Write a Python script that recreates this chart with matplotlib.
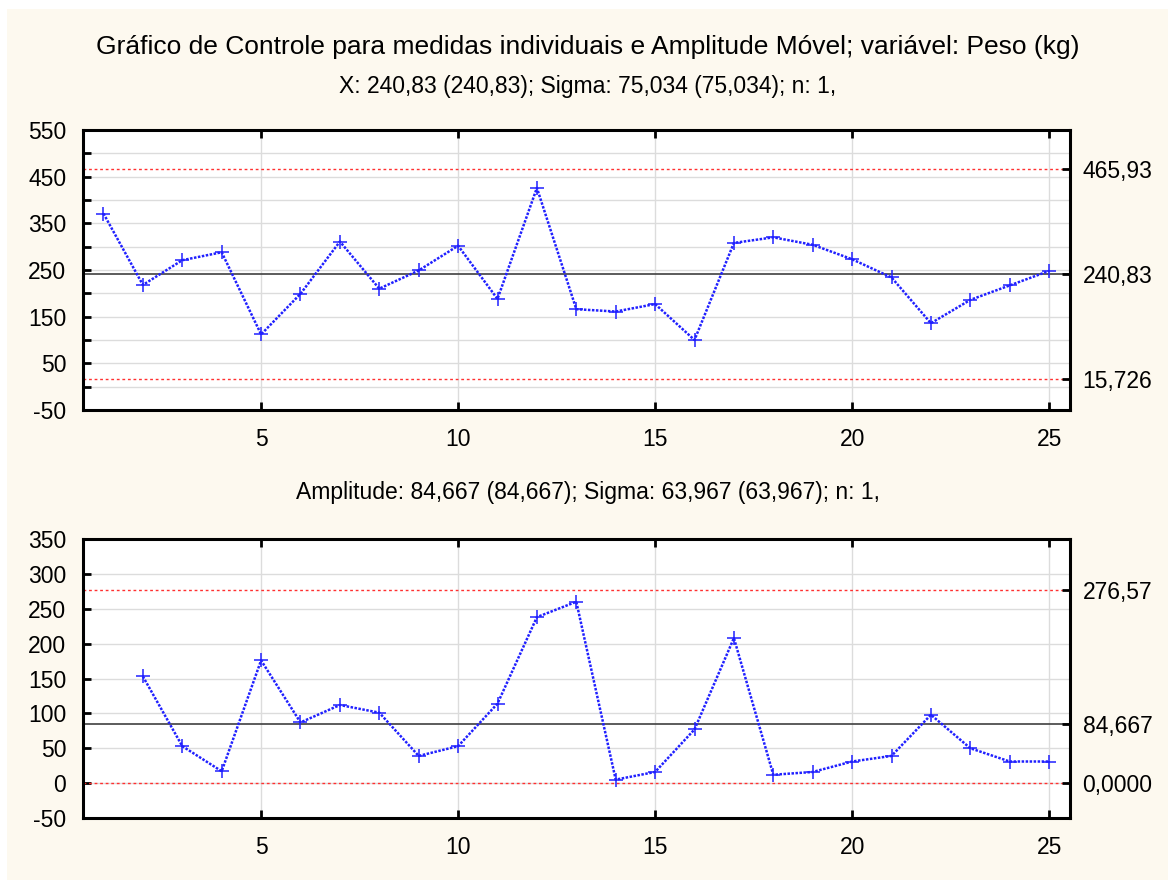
import numpy as np
import matplotlib
matplotlib.use("Agg")
import matplotlib.pyplot as plt
from matplotlib.ticker import MultipleLocator, FuncFormatter, FixedLocator
from matplotlib.patches import Rectangle

# Individual measurements (Peso, kg) for samples 1..25
amostras = list(range(1, 26))
peso = [371, 218, 271, 288, 112, 199, 311, 210, 249, 302, 188, 426, 166,
        161, 177, 100, 308, 320, 304, 273, 234, 136, 186, 217, 248]

# Moving ranges for samples 2..25
amostras_mr = list(range(2, 26))
amplitude = [153, 53, 17, 176, 87, 112, 101, 39, 53, 114, 238, 260, 5,
             16, 77, 208, 12, 16, 31, 39, 98, 50, 31, 31]

# Control limits
x_lcl, x_cl, x_ucl = 15.726, 240.83, 465.93
mr_lcl, mr_cl, mr_ucl = 0.0, 84.667, 276.57

titulo = "Gráfico de Controle para medidas individuais e Amplitude Móvel; variável: Peso (kg)"
sub_x = "X: 240,83 (240,83); Sigma: 75,034 (75,034); n: 1,"
sub_mr = "Amplitude: 84,667 (84,667); Sigma: 63,967 (63,967); n: 1,"

FONT = ["Liberation Sans", "DejaVu Sans"]
plt.rcParams["font.family"] = FONT
TICK_FS = 16.5

W, H = 1168, 880
fig = plt.figure(figsize=(W / 100, H / 100), dpi=100)
fig.patch.set_facecolor("white")
fig.add_artist(Rectangle((7 / W, 0), 1, 1 - 9 / H, transform=fig.transFigure,
                         facecolor="#fdf9ef", edgecolor="none", zorder=-10))


def fmt_limit(v, dec):
    return f"{v:.{dec}f}".replace(".", ",")


def panel(rect, xs, ys, lcl, cl, ucl, ylim, label_step, limit_labels):
    ax = fig.add_axes(rect)
    ax.set_facecolor("white")
    ax.set_xlim(0.48, 25.53)
    ax.set_ylim(*ylim)

    ax.yaxis.set_major_locator(MultipleLocator(50))
    lo = ylim[0]
    ax.yaxis.set_major_formatter(FuncFormatter(
        lambda v, p: f"{v:.0f}" if abs(((v - lo) / label_step) - round((v - lo) / label_step)) < 1e-6 else ""))
    ax.xaxis.set_major_locator(FixedLocator([5, 10, 15, 20, 25]))
    ax.xaxis.set_major_formatter(FuncFormatter(lambda v, p: f"{v:.0f}"))

    ax.grid(True, color="#dcdcdc", linewidth=1.0, zorder=0)
    ax.set_axisbelow(True)

    ax.tick_params(axis="both", direction="in", length=6, width=2,
                   labelsize=TICK_FS, top=True, right=True, colors="black")
    ax.tick_params(axis="y", pad=12)
    ax.tick_params(axis="x", pad=13)
    for s in ax.spines.values():
        s.set_linewidth(2.2)
        s.set_color("black")

    ax.axhline(ucl, color="#ff3030", linestyle=(0, (2, 2)), linewidth=1.0, zorder=2)
    ax.axhline(lcl, color="#ff3030", linestyle=(0, (2, 2)), linewidth=1.0, zorder=2)
    ax.axhline(cl, color="#404040", linestyle="-", linewidth=1.2, zorder=2)

    ax.plot(xs, ys, color="#2020ff", linestyle=(0, (1, 0.6)), linewidth=1.8,
            marker="+", markersize=10, markeredgewidth=1.1, zorder=3,
            clip_on=False)

    ax2 = ax.twinx()
    ax2.set_ylim(*ylim)
    ax2.set_yticks([ucl, cl, lcl])
    ax2.set_yticklabels(limit_labels)
    ax2.tick_params(axis="y", direction="in", length=6, width=2,
                    labelsize=TICK_FS, pad=9)
    for s in ax2.spines.values():
        s.set_visible(False)
    return ax


panel([83 / W, 1 - 410 / H, 987 / W, 280 / H], amostras, peso,
      x_lcl, x_cl, x_ucl, (-50, 550), 100,
      [fmt_limit(x_ucl, 2), fmt_limit(x_cl, 2), fmt_limit(x_lcl, 3)])

panel([83 / W, 1 - 818 / H, 987 / W, 279 / H], amostras_mr, amplitude,
      mr_lcl, mr_cl, mr_ucl, (-50, 350), 50,
      [fmt_limit(mr_ucl, 2), fmt_limit(mr_cl, 3), fmt_limit(mr_lcl, 4)])

cx = 0.5 * (1 + 7 / W)
fig.text(cx, 1 - 47 / H, titulo, ha="center", va="center",
         fontsize=19, color="black")
fig.text(cx, 1 - 86 / H, sub_x, ha="center", va="center",
         fontsize=16.5, color="black")
fig.text(cx, 1 - 493 / H, sub_mr, ha="center", va="center",
         fontsize=16.5, color="black")

fig.savefig("out.png", dpi=100, facecolor=fig.get_facecolor())
